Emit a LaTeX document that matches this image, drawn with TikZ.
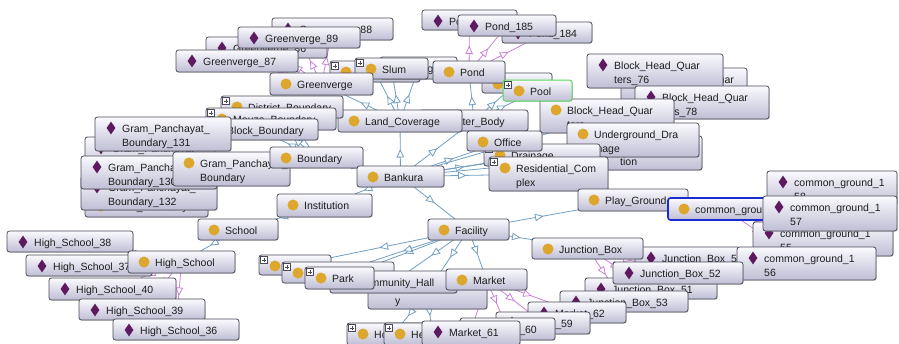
\documentclass[tikz,border=0pt]{standalone}
\usepackage{fontspec}
\setmainfont{Liberation Sans}
\usetikzlibrary{shapes.geometric,arrows.meta,decorations.markings,backgrounds,shadows}

\definecolor{boxline}{HTML}{4A4A58}
\definecolor{boxtop}{HTML}{FAFAFE}
\definecolor{boxbot}{HTML}{BFBED5}
\definecolor{clsgold}{HTML}{DDA62C}
\definecolor{indpurple}{HTML}{5E1A5E}
\definecolor{txt}{HTML}{1E1E1E}
\definecolor{subblue}{HTML}{729FC2}
\definecolor{instpink}{HTML}{CC80DA}
\definecolor{poolgreen}{HTML}{5CD65C}
\definecolor{selblue}{HTML}{1A2BD0}

\tikzset{
  obox/.style={draw=boxline, line width=0.8pt, rounded corners=2.5pt,
    top color=boxtop, bottom color=boxbot, inner sep=0pt, outer sep=0pt,
    drop shadow={shadow xshift=0.8pt, shadow yshift=-0.8pt, opacity=0.3}},
  clsicon/.style={circle, fill=clsgold, minimum size=11pt, inner sep=0pt},
  indicon/.style={diamond, fill=indpurple, minimum width=9pt, minimum height=13pt, inner sep=0pt},
  lbl/.style={inner sep=0pt, font=\fontsize{10.5}{12}\selectfont, text=txt},
  plusbox/.style={draw=boxline, fill=white, line width=0.5pt, minimum size=7pt, inner sep=0pt,
    path picture={\draw[line width=0.6pt]
      ([xshift=1.3pt]path picture bounding box.west) -- ([xshift=-1.3pt]path picture bounding box.east)
      ([yshift=1.3pt]path picture bounding box.south) -- ([yshift=-1.3pt]path picture bounding box.north);}},
  poolsel/.style={draw=poolgreen, line width=1pt},
  cgsel/.style={draw=selblue, line width=1.6pt},
  midtip/.style={postaction={decorate}, decoration={markings,
    mark=at position 0.5 with {\arrow{Triangle[length=8.5pt,width=7.5pt,fill=white]}}}},
  sub/.style={draw=subblue, line width=0.8pt, midtip},
  inst/.style={draw=instpink, line width=0.8pt, midtip},
}

% \ob[style]{name}{x1}{y1}{x2}{y2}{cls|ind}{first line}{second line}
\newcommand{\ob}[9][]{%
  \node[obox,#1,minimum width=#5-#3,minimum height=#6-#4,anchor=north west] (#2) at (#3,#4) {};
  \node[#7icon] (#2-i) at ([xshift=16pt,yshift=-11pt]#2.north west) {};
  \node[lbl,anchor=base west] (#2-a) at ([xshift=27pt,yshift=-15pt]#2.north west) {#8};
  \if\relax\detokenize{#9}\relax\else
    \node[lbl,anchor=base west] (#2-b) at ([xshift=27pt,yshift=-29pt]#2.north west) {#9};
  \fi}
% small expand marker in the upper left corner of a box
\newcommand{\expandmark}[1]{%
  \node[plusbox] (#1-p) at ([xshift=5pt,yshift=-5pt]#1.north west) {};}

\begin{document}
\begin{tikzpicture}[x=1pt,y=-1pt]
\useasboundingbox (0,0) rectangle (899,343);

% Greenverge individuals
\ob{gv88}{272}{18}{393}{40}{ind}{Greenverge\_88}{}
\ob{gv86}{206}{37}{327}{58}{ind}{Greenverge\_86}{}
\ob{gv89}{238}{27}{360}{48}{ind}{Greenverge\_89}{}
\ob{gv87}{176}{50}{298}{72}{ind}{Greenverge\_87}{}

% land coverage subclasses
\ob{agri}{330}{61}{420}{82}{cls}{Agriculture}{}\expandmark{agri}
\ob{mangrove}{380}{57}{457}{79}{cls}{Mangrove}{}
\ob{slum}{355}{58}{428}{79}{cls}{Slum}{}\expandmark{slum}
\ob{greenverge}{270}{73}{373}{95}{cls}{Greenverge}{}

% pond individuals
\ob{pd186}{422}{10}{517}{30}{ind}{Pond\_186}{}
\ob{pd184}{502}{22}{592}{43}{ind}{Pond\_184}{}
\ob{pd185}{458}{15}{556}{36}{ind}{Pond\_185}{}

% water and land
\ob{waterbody}{420}{110}{528}{131}{cls}{Water\_Body}{}
\ob{landcov}{338}{110}{462}{132}{cls}{Land\_Coverage}{}

% block head quarters
\ob{bhq77}{621}{68}{747}{102}{ind}{Block\_Head\_Quar}{ters\_77}
\ob{bhq76}{587}{54}{723}{88}{ind}{Block\_Head\_Quar}{ters\_76}
\ob{bhq78}{635}{86}{769}{119}{ind}{Block\_Head\_Quar}{ters\_78}
\ob{bhq}{540}{99}{674}{133}{cls}{Block\_Head\_Quar}{ters}
\ob{lake}{482}{73}{552}{93}{cls}{Lake}{}
\ob{pond}{433}{61}{505}{83}{cls}{Pond}{}
\ob[poolsel]{pool}{503}{80}{572}{101}{cls}{Pool}{}\expandmark{pool}
\ob{sewer}{593}{136}{702}{170}{cls}{Waste\_Collec}{tion}
\ob{ugd}{567}{123}{699}{157}{cls}{Underground\_Dra}{inage}
\ob{drainage}{484}{144}{600}{166}{cls}{Drainage}{}\expandmark{drainage}
\ob{office}{467}{131}{542}{151}{cls}{Office}{}
\ob{resid}{489}{157}{608}{191}{cls}{Residential\_Com}{plex}\expandmark{resid}

% boundaries
\ob{ward}{85}{195}{208}{217}{cls}{Ward\_Boundary}{}
\ob{gpb133}{85}{137}{215}{171}{ind}{Gram\_Panchayat\_}{Boundary\_133}
\ob{gpb132}{81}{176}{217}{210}{ind}{Gram\_Panchayat\_}{Boundary\_132}
\ob{gpb130}{81}{156}{217}{189}{ind}{Gram\_Panchayat\_}{Boundary\_130}
\ob{district}{221}{96}{343}{118}{cls}{District\_Boundary}{}\expandmark{district}
\ob{mouza}{206}{108}{336}{130}{cls}{Mouza\_Boundary}{}\expandmark{mouza}
\ob{block}{200}{119}{318}{140}{cls}{Block\_Boundary}{}
\ob{gpb131}{95}{117}{231}{151}{ind}{Gram\_Panchayat\_}{Boundary\_131}
\ob{gpb}{173}{152}{290}{186}{cls}{Gram\_Panchayat\_}{Boundary}
\ob{boundary}{270}{147}{363}{168}{cls}{Boundary}{}
\ob{bankura}{357}{166}{444}{187}{cls}{Bankura}{}
\ob{institution}{277}{194}{372}{217}{cls}{Institution}{}

% common ground
\ob{cg158}{767}{171}{897}{205}{ind}{common\_ground\_1}{58}
\ob{playg}{578}{189}{688}{211}{cls}{Play\_Ground}{}
\ob[cgsel]{cground}{668}{198}{780}{220}{cls}{common\_ground}{}
\ob{cg155}{753}{222}{893}{256}{ind}{common\_ground\_1}{55}
\ob{cg157}{763}{196}{897}{231}{ind}{common\_ground\_1}{57}

% facilities
\ob{facility}{428}{219}{509}{240}{cls}{Facility}{}
\ob{jb54}{635}{247}{740}{268}{ind}{Junction\_Box\_54}{}
\ob{jbox}{532}{238}{643}{259}{cls}{Junction\_Box}{}
\ob{cg156}{737}{247}{876}{280}{ind}{common\_ground\_1}{56}
\ob{jb51}{585}{278}{717}{299}{ind}{Junction\_Box\_51}{}
\ob{jb52}{613}{262}{743}{284}{ind}{Junction\_Box\_52}{}
\ob{jb53}{560}{291}{688}{312}{ind}{Junction\_Box\_53}{}
\ob{busstand}{259}{255}{331}{275}{cls}{Bus\_Stand}{}\expandmark{busstand}
\ob{cinema}{282}{262}{394}{283}{cls}{Cinema\_Hall}{}\expandmark{cinema}
\ob{medical}{368}{275}{487}{309}{cls}{Medical\_Facilit}{y}
\ob{community}{330}{271}{457}{293}{cls}{Community\_Hall}{}
\ob{park}{305}{267}{374}{289}{cls}{Park}{}\expandmark{park}
\ob{market}{446}{269}{527}{290}{cls}{Market}{}
\ob{hospital}{347}{323}{440}{345}{cls}{Hospital}{}\expandmark{hospital}
\ob{health}{384}{323}{480}{345}{cls}{Health\_Centre}{}\expandmark{health}
\ob{m62}{528}{302}{626}{323}{ind}{Market\_62}{}
\ob{m59}{496}{312}{590}{334}{ind}{Market\_59}{}
\ob{m60}{460}{318}{555}{340}{ind}{Market\_60}{}
\ob{m61}{422}{321}{520}{345}{ind}{Market\_61}{}

% schools
\ob{school}{198}{219}{278}{240}{cls}{School}{}
\ob{hs38}{7}{231}{133}{252}{ind}{High\_School\_38}{}
\ob{hs37}{26}{255}{152}{276}{ind}{High\_School\_37}{}
\ob{highschool}{128}{251}{235}{273}{cls}{High\_School}{}
\ob{hs40}{49}{278}{176}{300}{ind}{High\_School\_40}{}
\ob{hs39}{79}{299}{205}{320}{ind}{High\_School\_39}{}
\ob{hs36}{113}{319}{239}{340}{ind}{High\_School\_36}{}

\begin{pgfonlayer}{background}
  % subclass links
  \foreach \c in {landcov,waterbody,office,drainage,resid,bhq,sewer,ugd,boundary,institution,facility}
    \draw[sub] (bankura) -- (\c);
  \foreach \c in {greenverge,agri,slum,mangrove}
    \draw[sub] (landcov) -- (\c);
  \foreach \c in {pond,lake,pool}
    \draw[sub] (waterbody) -- (\c);
  \foreach \c in {district,mouza,block,gpb,ward}
    \draw[sub] (boundary) -- (\c);
  \draw[sub] (institution) -- (school);
  \draw[sub] (school) -- (highschool);
  \foreach \c in {playg,jbox,market,community,medical,park,busstand,cinema}
    \draw[sub] (facility) -- (\c);
  \foreach \c in {hospital,health}
    \draw[sub] (medical) -- (\c);
  \draw[sub] (playg) -- (cground);
  % individual links
  \foreach \c in {gv86,gv87,gv88,gv89}
    \draw[inst] (greenverge) -- (\c);
  \foreach \c in {pd184,pd185,pd186}
    \draw[inst] (pond) -- (\c);
  \foreach \c in {bhq76,bhq77,bhq78}
    \draw[inst] (bhq) -- (\c);
  \foreach \c in {gpb130,gpb131,gpb132,gpb133}
    \draw[inst] (gpb) -- (\c);
  \foreach \c in {hs36,hs37,hs38,hs39,hs40}
    \draw[inst] (highschool) -- (\c);
  \foreach \c in {m59,m60,m61,m62}
    \draw[inst] (market) -- (\c);
  \foreach \c in {jb51,jb52,jb53,jb54}
    \draw[inst] (jbox) -- (\c);
  \foreach \c in {cg155,cg156,cg157,cg158}
    \draw[inst] (cground) -- (\c);
\end{pgfonlayer}
\end{tikzpicture}
\end{document}
